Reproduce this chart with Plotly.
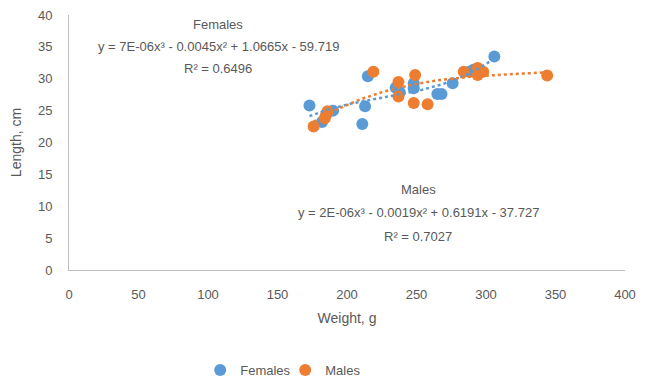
import numpy as np
import plotly.graph_objects as go

# Data
female_weight = [173, 182, 190, 211, 213, 215, 235, 238, 248, 248, 265, 268, 276, 288, 291, 306]
female_length = [25.8, 23.2, 25.0, 22.9, 25.7, 30.4, 28.6, 27.9, 29.3, 28.5, 27.6, 27.6, 29.3, 31.1, 31.4, 33.5]

male_weight = [176, 184, 185, 186, 219, 237, 237, 249, 248, 258, 284, 294, 294, 298, 344]
male_length = [22.5, 23.8, 24.4, 24.9, 31.1, 29.5, 27.2, 30.6, 26.2, 26.0, 31.1, 31.7, 30.6, 31.1, 30.5]

female_eq = "y = 7E-06x³ - 0.0045x² + 1.0665x - 59.719"
female_r2 = "R² = 0.6496"
male_eq = "y = 2E-06x³ - 0.0019x² + 0.6191x - 37.727"
male_r2 = "R² = 0.7027"

x_ticks = [0, 50, 100, 150, 200, 250, 300, 350, 400]
y_ticks = [0, 5, 10, 15, 20, 25, 30, 35, 40]

BLUE = "#5B9BD5"
ORANGE = "#ED7D31"
GRAY = "#595959"
FONT = "Liberation Sans"

fig = go.Figure()

def trend(xs, ys):
    c = np.polyfit(xs, ys, 3)
    xx = np.linspace(min(xs), max(xs), 60)
    return xx, np.polyval(c, xx)

fx, fy = trend(female_weight, female_length)
mx, my = trend(male_weight, male_length)

fig.add_trace(go.Scatter(x=female_weight, y=female_length, mode="markers", name="Females",
                         marker=dict(color=BLUE, size=12)))
fig.add_trace(go.Scatter(x=male_weight, y=male_length, mode="markers", name="Males",
                         marker=dict(color=ORANGE, size=12)))
fig.add_trace(go.Scatter(x=fx, y=fy, mode="lines", showlegend=False, hoverinfo="skip",
                         line=dict(color=BLUE, width=2.5, dash="dot")))
fig.add_trace(go.Scatter(x=mx, y=my, mode="lines", showlegend=False, hoverinfo="skip",
                         line=dict(color=ORANGE, width=2.5, dash="dot")))

def ann(x, y, text):
    return dict(x=x, y=y, xref="paper", yref="paper", text=text, showarrow=False,
                xanchor="center", yanchor="middle", font=dict(family=FONT, size=13, color=GRAY))

annotations = [
    ann(0.268, 0.961, "Females"),
    ann(0.268, 0.878, female_eq),
    ann(0.268, 0.792, female_r2),
    ann(0.628, 0.314, "Males"),
    ann(0.628, 0.224, male_eq),
    ann(0.628, 0.133, male_r2),
]

fig.update_layout(
    width=650, height=382,
    margin=dict(l=69, r=25, t=15, b=112, autoexpand=False),
    paper_bgcolor="white", plot_bgcolor="white",
    font=dict(family=FONT, size=13, color=GRAY),
    annotations=annotations,
    legend=dict(orientation="h", x=0.236, y=0.031, xref="paper", yref="container",
                xanchor="left", yanchor="middle", itemwidth=30, entrywidth=40,
                font=dict(family=FONT, size=13, color=GRAY)),
    xaxis=dict(range=[0, 400], tickvals=x_ticks, showgrid=False, zeroline=False,
               showline=True, linecolor="#BFBFBF", linewidth=1, ticks="",
               ticklabelstandoff=12, automargin=False,
               title=dict(text="Weight, g", font=dict(family=FONT, size=14, color=GRAY), standoff=12)),
    yaxis=dict(range=[0, 40], tickvals=y_ticks, showgrid=False, zeroline=False,
               showline=True, linecolor="#BFBFBF", linewidth=1, ticks="",
               ticklabelstandoff=13, automargin=False,
               title=dict(text="Length, cm", font=dict(family=FONT, size=14, color=GRAY), standoff=13)),
)

# remove the browser's default 8px body margin so the figure sits at the page origin
fig.write_html("out.html", config={"displayModeBar": False},
               post_script="document.body.style.margin='0';")
